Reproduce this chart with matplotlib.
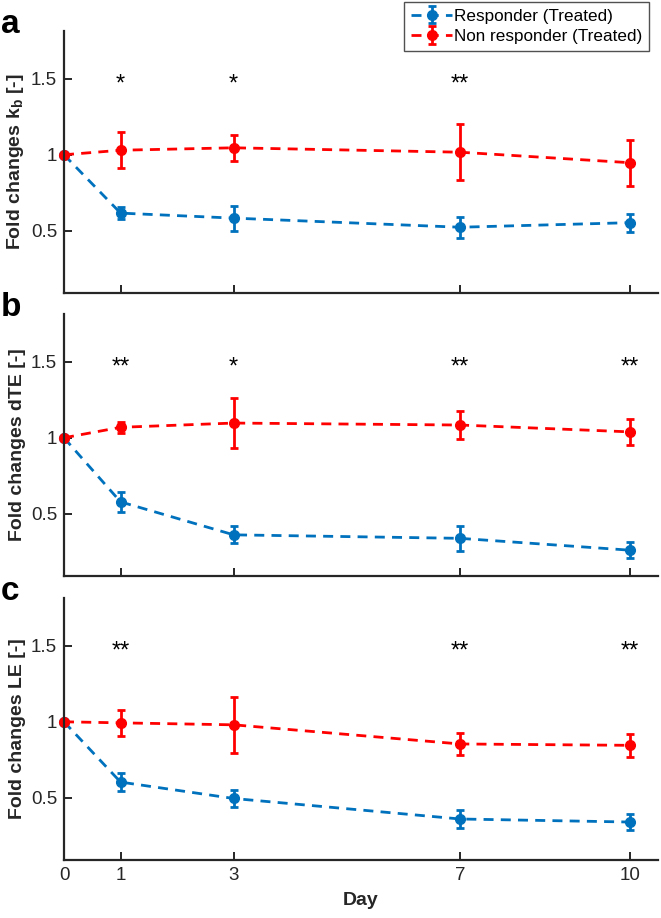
import numpy as np
import matplotlib
matplotlib.use("Agg")
import matplotlib.pyplot as plt

plt.rcParams['font.family'] = ['Liberation Sans', 'DejaVu Sans']
plt.rcParams['mathtext.fontset'] = 'custom'
plt.rcParams['mathtext.rm'] = 'Liberation Sans'
plt.rcParams['mathtext.bf'] = 'Liberation Sans:bold'

days = [0, 1, 3, 7, 10]

# panel a: k_b
resp_kb = [1.0, 0.616, 0.583, 0.523, 0.553]
resp_kb_err = [0.0, 0.040, 0.083, 0.070, 0.060]
nonr_kb = [1.0, 1.030, 1.046, 1.017, 0.948]
nonr_kb_err = [0.0, 0.120, 0.087, 0.183, 0.152]
stars_kb = ['*', '*', '**', '']

# panel b: dTE
resp_dte = [1.0, 0.578, 0.361, 0.338, 0.260]
resp_dte_err = [0.0, 0.068, 0.055, 0.082, 0.052]
nonr_dte = [1.0, 1.069, 1.097, 1.084, 1.039]
nonr_dte_err = [0.0, 0.036, 0.163, 0.094, 0.084]
stars_dte = ['**', '*', '**', '**']

# panel c: LE
resp_le = [1.0, 0.603, 0.495, 0.360, 0.340]
resp_le_err = [0.0, 0.060, 0.054, 0.057, 0.051]
nonr_le = [1.0, 0.993, 0.980, 0.854, 0.845]
nonr_le_err = [0.0, 0.087, 0.183, 0.073, 0.076]
stars_le = ['**', '', '**', '**']

ylabels = [r'Fold changes k$_\mathbf{b}$ [-]', 'Fold changes dTE [-]', 'Fold changes LE [-]']
letters = ['a', 'b', 'c']

blue = '#0072BD'
red = '#FF0000'
axcol = '#262626'

W, H = 661, 918
fig = plt.figure(figsize=(W / 100, H / 100), dpi=100)

tops = [31, 314, 598]
ax_h = 262
left_px, right_px = 64, 658

panels = [
    (resp_kb, resp_kb_err, nonr_kb, nonr_kb_err, stars_kb),
    (resp_dte, resp_dte_err, nonr_dte, nonr_dte_err, stars_dte),
    (resp_le, resp_le_err, nonr_le, nonr_le_err, stars_le),
]

handles = None
for i, (r, re, n, ne, st) in enumerate(panels):
    top = tops[i]
    ax = fig.add_axes([left_px / W, 1 - (top + ax_h) / H, (right_px - left_px) / W, ax_h / H])
    hr = ax.errorbar(days, r, yerr=re, color=blue, ls='--', lw=2, marker='o', ms=7,
                     elinewidth=2, capsize=3, capthick=2, dashes=(3.6, 2.6),
                     label='Responder (Treated)')
    hn = ax.errorbar(days, n, yerr=ne, color=red, ls='--', lw=2, marker='o', ms=7,
                     elinewidth=2, capsize=3, capthick=2, dashes=(3.6, 2.6),
                     label='Non responder (Treated)')
    for h in (hr, hn):
        for art in h.lines[:1]:
            art.set_clip_on(False)
    if handles is None:
        handles = [hr, hn]
    for d, s in zip(days[1:], st):
        if s:
            ax.text(d, 1.42, s, ha='center', va='baseline', fontsize=17, color='black')
    ax.set_xlim(0, 10.5)
    ax.set_ylim(0.09, 1.815)
    ax.set_yticks([0.5, 1, 1.5])
    ax.set_yticklabels(['0.5', '1', '1.5'])
    ax.set_xticks(days)
    if i == 2:
        ax.set_xticklabels([str(d) for d in days])
        ax.set_xlabel('Day', fontsize=14, fontweight='bold', color=axcol, labelpad=6)
    else:
        ax.set_xticklabels([])
    for s in ['top', 'right']:
        ax.spines[s].set_visible(False)
    for s in ['left', 'bottom']:
        ax.spines[s].set_linewidth(1.6)
        ax.spines[s].set_color(axcol)
    ax.tick_params(direction='in', length=6, width=1.4, colors=axcol, labelsize=13.5, pad=5)
    ax.set_ylabel(ylabels[i], fontsize=14, fontweight='bold', color=axcol)
    ax.yaxis.set_label_coords(-0.064, 0.5)
    fig.text(1 / W, 1 - (top + 2) / H, letters[i], fontsize=24, fontweight='bold',
             ha='left', va='baseline')

leg = fig.legend(handles, ['Responder (Treated)', 'Non responder (Treated)'],
                 loc='upper right', bbox_to_anchor=(649 / W, 1 - 2 / H),
                 fontsize=12.3, frameon=True, fancybox=False, handlelength=2.4,
                 borderpad=0.4, labelspacing=0.3, handletextpad=0.1, borderaxespad=0)
leg.get_frame().set_edgecolor(axcol)
leg.get_frame().set_linewidth(1.0)

fig.savefig('out.png', dpi=100)
